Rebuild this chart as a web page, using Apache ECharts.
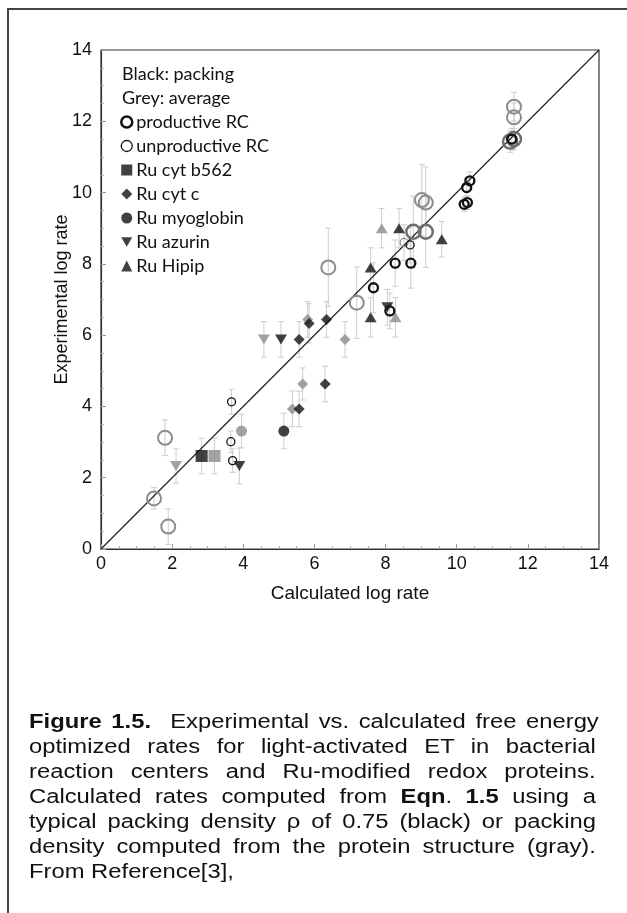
<!DOCTYPE html>
<html><head><meta charset="utf-8">
<script src="https://cdn.jsdelivr.net/npm/echarts@6/dist/echarts.min.js"></script>
<style>
html,body{margin:0;padding:0;background:#fff;}
#wrap{position:relative;width:627px;height:913px;overflow:hidden;background:#fff;}
#frame{position:absolute;left:7px;top:8px;width:640px;height:920px;border-left:2px solid #444;border-top:2px solid #444;box-sizing:border-box;}
#chart{position:absolute;left:0;top:0;width:627px;height:913px;}
#cap{position:absolute;left:29px;top:709px;width:570px;font-family:"Liberation Sans",Arial,sans-serif;font-size:19.5px;line-height:25px;color:#111;}
#cap div{white-space:nowrap;transform-origin:0 0;height:25px;}
#cap div span{display:inline-block;white-space:nowrap;}
</style></head>
<body><div id="wrap"><div id="frame"></div><div id="chart"></div>
<div id="cap">
<div><span><b>Figure 1.5.</b>&nbsp; Experimental vs. calculated free energy</span></div>
<div><span>optimized rates for light-activated ET in bacterial</span></div>
<div><span>reaction centers and Ru-modified redox proteins.</span></div>
<div><span>Calculated rates computed from <b>Eqn</b>. <b>1.5</b> using a</span></div>
<div><span>typical packing density ρ of 0.75 (black) or packing</span></div>
<div><span>density computed from the protein structure (gray).</span></div>
<div class="last"><span>From Reference[3],</span></div>
</div></div>
<script>
// ---- data (calculated log rate = x, experimental log rate = y, err = half error bar) ----
const axisTicks = [0, 2, 4, 6, 8, 10, 12, 14];
const diagX = [0, 14];
const diagY = [0, 14];

const prodBlackX = [10.28, 10.37, 10.21, 10.30, 8.27, 8.71, 7.66, 8.12, 11.55];
const prodBlackY = [10.14, 10.33, 9.67, 9.72, 8.02, 8.02, 7.33, 6.68, 11.50];
const prodBlackE = [0.25, 0.25, 0.2, 0.2, 0.65, 0.7, 0.7, 0.5, 0.3];

const prodGreyX = [8.78, 9.13, 11.50, 11.61];
const prodGreyY = [8.90, 8.90, 11.43, 11.50];
const prodGreyE = [1.0, 1.0, 0.3, 0.3];

const unprodGreyBigX = [11.61, 11.61, 9.02, 9.13, 6.39, 7.19, 1.49, 1.80, 1.89];
const unprodGreyBigY = [12.41, 12.11, 9.79, 9.72, 7.90, 6.91, 1.42, 3.12, 0.63];
const unprodGreyBigE = [0.4, 0.4, 1.0, 1.0, 1.1, 1.0, 0.3, 0.5, 0.5];

const unprodBlackX = [3.67, 3.65, 3.70, 8.69];
const unprodBlackY = [4.13, 3.01, 2.48, 8.53];
const unprodBlackE = [0.35, 0.3, 0.33, 0.5];

const unprodGreyX = [8.52];
const unprodGreyY = [8.60];
const unprodGreyE = [0.5];

const b562BlackX = [2.83], b562BlackY = [2.61], b562BlackE = [0.5];
const b562GreyX = [3.19], b562GreyY = [2.61], b562GreyE = [0.5];

const cytcBlackX = [5.85, 6.34, 5.57, 6.30, 5.57];
const cytcBlackY = [6.33, 6.44, 5.88, 4.63, 3.93];
const cytcBlackE = [0.55, 0.5, 0.5, 0.5, 0.5];
const cytcGreyX = [5.81, 6.86, 5.67, 5.38];
const cytcGreyY = [6.44, 5.88, 4.63, 3.93];
const cytcGreyE = [0.5, 0.5, 0.45, 0.5];

const myoBlackX = [5.14], myoBlackY = [3.31], myoBlackE = [0.5];
const myoGreyX = [3.95], myoGreyY = [3.31], myoGreyE = [0.47];

const azuBlackX = [3.89, 5.06, 8.05];
const azuBlackY = [2.33, 5.88, 6.78];
const azuBlackE = [0.5, 0.5, 0.5];
const azuGreyX = [2.11, 4.58];
const azuGreyY = [2.33, 5.88];
const azuGreyE = [0.48, 0.5];

const hipBlackX = [7.58, 7.58, 8.38, 9.58];
const hipBlackY = [7.90, 6.50, 9.00, 8.69];
const hipBlackE = [0.55, 0.55, 0.55, 0.5];
const hipGreyX = [7.89, 8.28];
const hipGreyY = [9.00, 6.50];
const hipGreyE = [0.55, 0.55];

const legendNames = ['productive RC', 'unproductive RC', 'Ru cyt b562', 'Ru cyt c', 'Ru myoglobin', 'Ru azurin', 'Ru Hipip'];
const headerLines = ['Black: packing', 'Grey: average'];

// ---- caption layout: horizontally stretched, justified lines ----
(function () {
  const S = 1.22, FULL = 567;
  document.querySelectorAll('#cap div').forEach(function (d) {
    const sp = d.querySelector('span');
    if (!d.classList.contains('last')) {
      const w = sp.offsetWidth;
      const n = (sp.textContent.match(/\s+/g) || []).length;
      const ws = (FULL / S - w) / n;
      sp.style.wordSpacing = ws + 'px';
    }
    d.style.transform = 'scaleX(' + S + ')';
  });
})();

// ---- build ----
const BLACK = '#111111', GREY = '#8c8c8c', DGREY = '#6f6f6f';
const INV_TRI = 'path://M0,0L20,0L10,17Z';
function pts(xs, ys) { return xs.map((x, i) => [x, ys[i]]); }
function errPts(xs, ys, es) { return xs.map((x, i) => [x, ys[i], es[i]]); }

const allErr = [].concat(
  errPts(prodBlackX, prodBlackY, prodBlackE), errPts(prodGreyX, prodGreyY, prodGreyE),
  errPts(unprodGreyBigX, unprodGreyBigY, unprodGreyBigE), errPts(unprodBlackX, unprodBlackY, unprodBlackE),
  errPts(unprodGreyX, unprodGreyY, unprodGreyE), errPts(b562BlackX, b562BlackY, b562BlackE),
  errPts(b562GreyX, b562GreyY, b562GreyE), errPts(cytcBlackX, cytcBlackY, cytcBlackE),
  errPts(cytcGreyX, cytcGreyY, cytcGreyE), errPts(myoBlackX, myoBlackY, myoBlackE),
  errPts(myoGreyX, myoGreyY, myoGreyE), errPts(azuBlackX, azuBlackY, azuBlackE),
  errPts(azuGreyX, azuGreyY, azuGreyE), errPts(hipBlackX, hipBlackY, hipBlackE),
  errPts(hipGreyX, hipGreyY, hipGreyE)
);

function sc(name, data, symbol, size, style, z) {
  return { type: 'scatter', name, data, symbol, symbolSize: size, itemStyle: style, z: z || 5, emphasis: { disabled: true } };
}
const openStyle = (c, w) => ({ color: 'rgba(255,255,255,0)', borderColor: c, borderWidth: w, opacity: 1 });

const chart = echarts.init(document.getElementById('chart'), null, { renderer: 'canvas' });
const AFONT = 'Liberation Sans, Arial, sans-serif';
const axisCommon = {
  type: 'value', min: 0, max: 14, interval: 2,
  axisLine: { show: true, onZero: false, lineStyle: { color: '#333', width: 1.2 } },
  axisTick: { show: true, inside: true, length: 5, lineStyle: { color: '#999' } },
  minorTick: { show: true, splitNumber: 4, length: 3, lineStyle: { color: '#aaa' } },
  splitLine: { show: false },
  axisLabel: { color: '#111', fontSize: 18, fontFamily: AFONT },
  nameLocation: 'middle',
  nameMoveOverlap: false
};

const LFONT = 'Lato, "Open Sans", sans-serif';
chart.setOption({
  animation: false,
  backgroundColor: 'transparent',
  grid: { left: 101, top: 50, width: 498, height: 499, show: true, borderColor: '#333', borderWidth: 1.2, backgroundColor: 'transparent' },
  xAxis: Object.assign({}, axisCommon, {
    name: 'Calculated log rate', nameGap: 35,
    nameTextStyle: { color: '#111', fontSize: 19, fontFamily: AFONT },
    axisLabel: Object.assign({}, axisCommon.axisLabel, { margin: 6 })
  }),
  yAxis: Object.assign({}, axisCommon, {
    name: 'Experimental log rate', nameGap: 30,
    nameTextStyle: { color: '#111', fontSize: 18, fontFamily: AFONT },
    axisLabel: Object.assign({}, axisCommon.axisLabel, { margin: 9 })
  }),
  legend: {
    orient: 'vertical', left: 120, top: 113, padding: 0, itemWidth: 11, itemHeight: 11, itemGap: 6,
    selectedMode: false,
    textStyle: { fontSize: 18, fontFamily: LFONT, color: '#111', padding: [0, 0, 0, -1] },
    data: [
      { name: legendNames[0], icon: 'circle', itemStyle: openStyle(BLACK, 2.5) },
      { name: legendNames[1], icon: 'circle', itemStyle: openStyle(BLACK, 1.3) },
      { name: legendNames[2], icon: 'rect', itemStyle: { color: BLACK } },
      { name: legendNames[3], icon: 'diamond', itemStyle: { color: BLACK } },
      { name: legendNames[4], icon: 'circle', itemStyle: { color: BLACK } },
      { name: legendNames[5], icon: INV_TRI, itemStyle: { color: BLACK } },
      { name: legendNames[6], icon: 'triangle', itemStyle: { color: BLACK } }
    ]
  },
  graphic: headerLines.map((t, i) => ({
    type: 'text', left: 122, top: 65 + i * 24, z: 10,
    style: { text: t, fontSize: 18, fontFamily: LFONT, fill: '#111' }
  })),
  series: [
    {
      type: 'custom', name: 'err', z: 1, silent: true, data: allErr,
      renderItem: function (params, api) {
        const x = api.value(0), y = api.value(1), e = api.value(2);
        const top = api.coord([x, y + e]), bot = api.coord([x, y - e]);
        const st = { stroke: '#cdcdcd', lineWidth: 1 };
        return { type: 'group', children: [
          { type: 'line', shape: { x1: top[0], y1: top[1], x2: bot[0], y2: bot[1] }, style: st },
          { type: 'line', shape: { x1: top[0] - 3, y1: top[1], x2: top[0] + 3, y2: top[1] }, style: st },
          { type: 'line', shape: { x1: bot[0] - 3, y1: bot[1], x2: bot[0] + 3, y2: bot[1] }, style: st }
        ] };
      }
    },
    { type: 'line', name: 'diag', data: pts(diagX, diagY), symbol: 'none', z: 2, silent: true,
      lineStyle: { color: '#222', width: 1.2 } },
    sc('grey big RC', pts(unprodGreyBigX, unprodGreyBigY), 'circle', 14, openStyle(GREY, 2)),
    sc('grey productive RC', pts(prodGreyX, prodGreyY), 'circle', 14, openStyle(DGREY, 2.5)),
    sc('grey unproductive RC', pts(unprodGreyX, unprodGreyY), 'circle', 8, openStyle(GREY, 1.3)),
    sc('grey b562', pts(b562GreyX, b562GreyY), 'rect', 12, { color: GREY }),
    sc('grey cyt c', pts(cytcGreyX, cytcGreyY), 'diamond', 11, { color: GREY }),
    sc('grey myoglobin', pts(myoGreyX, myoGreyY), 'circle', 11, { color: GREY }),
    sc('grey azurin', pts(azuGreyX, azuGreyY), INV_TRI, [12, 10], { color: GREY }),
    sc('grey Hipip', pts(hipGreyX, hipGreyY), 'triangle', [12, 10], { color: GREY }),
    sc(legendNames[0], pts(prodBlackX, prodBlackY), 'circle', 9, openStyle(BLACK, 2.3), 6),
    sc(legendNames[1], pts(unprodBlackX, unprodBlackY), 'circle', 8, openStyle(BLACK, 1.3), 6),
    sc(legendNames[2], pts(b562BlackX, b562BlackY), 'rect', 12, { color: BLACK }, 6),
    sc(legendNames[3], pts(cytcBlackX, cytcBlackY), 'diamond', 11, { color: BLACK }, 6),
    sc(legendNames[4], pts(myoBlackX, myoBlackY), 'circle', 11, { color: BLACK }, 6),
    sc(legendNames[5], pts(azuBlackX, azuBlackY), INV_TRI, [12, 10], { color: BLACK }, 6),
    sc(legendNames[6], pts(hipBlackX, hipBlackY), 'triangle', [12, 10], { color: BLACK }, 6)
  ]
});
</script></body></html>
